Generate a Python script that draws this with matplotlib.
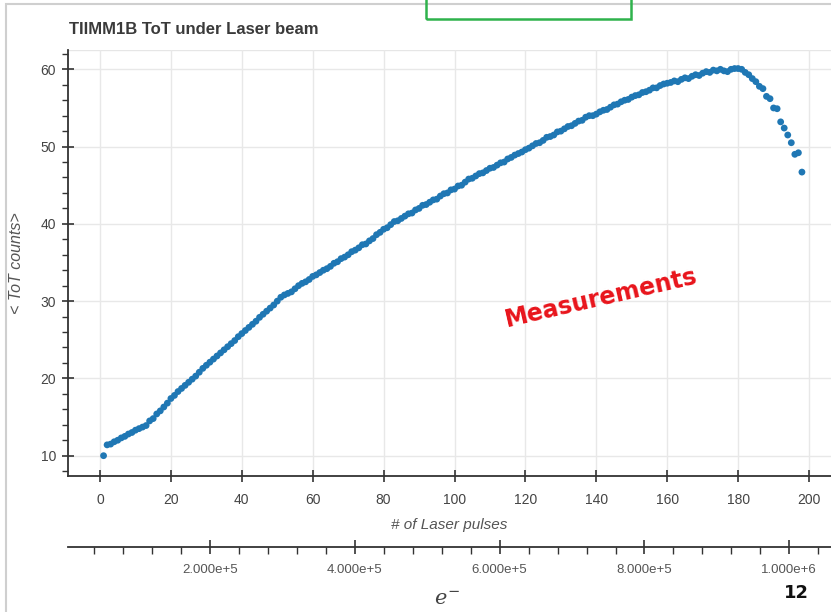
import matplotlib
matplotlib.use("Agg")
import matplotlib.pyplot as plt
import matplotlib.patches as patches
from matplotlib.ticker import MultipleLocator, FuncFormatter
import numpy as np

# ---- data ----
pulses = list(range(1, 199))
tot_counts = [
    10.0, 11.4, 11.5, 11.8, 12.0, 12.3, 12.5, 12.8, 13.0, 13.3,
    13.5, 13.7, 13.9, 14.5, 14.8, 15.4, 15.8, 16.3, 16.8, 17.4,
    17.8, 18.3, 18.7, 19.1, 19.5, 19.9, 20.3, 20.8, 21.3, 21.7,
    22.1, 22.5, 22.9, 23.3, 23.7, 24.1, 24.5, 24.9, 25.4, 25.8,
    26.2, 26.6, 27.0, 27.4, 27.9, 28.3, 28.7, 29.1, 29.5, 30.0,
    30.5, 30.8, 31.0, 31.2, 31.6, 32.0, 32.3, 32.5, 32.8, 33.2,
    33.4, 33.7, 34.0, 34.2, 34.5, 34.9, 35.1, 35.5, 35.7, 36.0,
    36.4, 36.6, 36.9, 37.3, 37.4, 37.8, 38.1, 38.6, 38.9, 39.3,
    39.5, 39.9, 40.3, 40.4, 40.7, 41.0, 41.3, 41.4, 41.8, 42.0,
    42.4, 42.5, 42.8, 43.1, 43.2, 43.6, 43.9, 44.0, 44.4, 44.5,
    44.9, 45.0, 45.4, 45.8, 45.9, 46.2, 46.5, 46.6, 46.9, 47.2,
    47.3, 47.6, 47.9, 48.0, 48.4, 48.6, 48.9, 49.1, 49.3, 49.6,
    49.8, 50.1, 50.4, 50.5, 50.8, 51.2, 51.3, 51.5, 51.9, 52.0,
    52.3, 52.6, 52.7, 53.0, 53.3, 53.4, 53.8, 54.0, 54.0, 54.2,
    54.5, 54.7, 54.8, 55.1, 55.4, 55.5, 55.8, 56.0, 56.1, 56.4,
    56.6, 56.7, 57.0, 57.1, 57.3, 57.6, 57.6, 57.9, 58.1, 58.2,
    58.3, 58.5, 58.4, 58.7, 58.9, 58.8, 59.1, 59.3, 59.2, 59.5,
    59.7, 59.6, 59.9, 59.8, 60.0, 59.8, 59.7, 60.0, 60.1, 60.1,
    60.0, 59.6, 59.3, 58.8, 58.4, 57.8, 57.5, 56.5, 56.2, 55.0,
    54.9, 53.2, 52.4, 51.5, 50.5, 49.0, 49.2, 46.7,
]
x_ticks = [0, 20, 40, 60, 80, 100, 120, 140, 160, 180, 200]
y_ticks = [10, 20, 30, 40, 50, 60]
e_ticks = [2.0e5, 4.0e5, 6.0e5, 8.0e5, 1.0e6]

title = "TIIMM1B ToT under Laser beam"
xlabel = "# of Laser pulses"
ylabel = "< ToT counts>"

W, H = 831, 612
fig = plt.figure(figsize=(W / 100, H / 100), dpi=100)
fig.patch.set_facecolor("white")

sans = ["Liberation Sans", "DejaVu Sans"]
txt_col = "#444444"

def fx(px):
    return px / W

def fy(py):
    return 1 - py / H

# outer slide frame
fig.add_artist(patches.Rectangle((fx(6), fy(H + 10)), 1.2, fy(4) - fy(H + 10),
                                 transform=fig.transFigure, fill=False,
                                 edgecolor="#cfcfcf", linewidth=1.5))
# green box at top
fig.add_artist(patches.Rectangle((fx(426), fy(19)), fx(631) - fx(426), fy(-5) - fy(19),
                                 transform=fig.transFigure, fill=False,
                                 edgecolor="#2fb24c", linewidth=1.8))

ax = fig.add_axes([fx(68), fy(476), fx(831) - fx(68), fy(50) - fy(476)])
ax.scatter(pulses, tot_counts, s=24, color="#1f77b4", edgecolors="none", zorder=3)

ax.set_xlim(-9.03, 206.2)
ax.set_ylim(7.37, 62.5)
ax.set_xticks(x_ticks)
ax.set_yticks(y_ticks)
ax.yaxis.set_minor_locator(MultipleLocator(2))
ax.grid(True, which="major", color="#e8e8e8", linewidth=1.0, zorder=0)
ax.set_axisbelow(True)

for s in ["top", "right"]:
    ax.spines[s].set_visible(False)
for s in ["left", "bottom"]:
    ax.spines[s].set_color("#333333")
    ax.spines[s].set_linewidth(1.3)

ax.tick_params(axis="x", which="major", direction="inout", length=9, width=1.2,
               color="#333333", labelsize=10, labelcolor=txt_col, pad=8)
ax.tick_params(axis="y", which="major", direction="inout", length=9, width=1.2,
               color="#333333", labelsize=10, labelcolor=txt_col, pad=4)
ax.tick_params(axis="y", which="minor", direction="out", length=4, width=1.0,
               color="#333333")
for lab in ax.get_xticklabels() + ax.get_yticklabels():
    lab.set_family(sans)

ax.set_xlabel(xlabel, fontsize=11, style="italic", color="#555555", family=sans, labelpad=8)
ax.set_ylabel(ylabel, fontsize=11.5, style="italic", color="#555555", family=sans, labelpad=12)

# top light frame line
ax.axhline(62.5, color="#e6e6e6", linewidth=1.0, zorder=0)

# secondary axis (electrons)
ax2 = fig.add_axes([fx(68), fy(547), fx(831) - fx(68), 0.0001])
ax2.set_xlim(3867, 1057600)
ax2.set_ylim(0, 1)
ax2.patch.set_visible(False)
for s in ["top", "right", "left"]:
    ax2.spines[s].set_visible(False)
ax2.spines["bottom"].set_color("#333333")
ax2.spines["bottom"].set_linewidth(1.3)
ax2.set_yticks([])
ax2.set_xticks(e_ticks)
ax2.xaxis.set_minor_locator(MultipleLocator(4e4))

def efmt(v, pos):
    if v == 0:
        return "0"
    e = int(np.floor(np.log10(abs(v))))
    return f"{v / 10**e:.3f}e+{e}"

ax2.xaxis.set_major_formatter(FuncFormatter(efmt))
ax2.tick_params(axis="x", which="major", direction="inout", length=10, width=1.2,
                color="#333333", labelsize=9.5, labelcolor="#555555", pad=7)
ax2.tick_params(axis="x", which="minor", direction="out", length=5, width=1.0,
                color="#333333")
for lab in ax2.get_xticklabels():
    lab.set_family(sans)

# title
fig.text(fx(69), fy(34), title, fontsize=12, fontweight="bold", color="#3a3a3a",
         family=sans, ha="left", va="baseline")

# annotation
ax.text(141.3, 30.4, "Measurements", color="#e8141b", fontsize=17, fontweight="bold",
        rotation=13, rotation_mode="anchor", ha="center", va="center",
        family=["DejaVu Sans"], zorder=4)

# electron label and page number
fig.text(fx(447), fy(599), r"$e^{-}$", fontsize=15, color="#444444",
         math_fontfamily="dejavuserif", ha="center", va="center")
fig.text(fx(796), fy(593), "12", fontsize=13, fontweight="bold", color="#111111",
         family=["DejaVu Sans"], ha="center", va="center")

fig.savefig("out.png", dpi=100, facecolor="white")
